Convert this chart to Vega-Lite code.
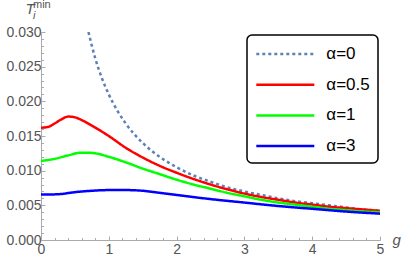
{
 "$schema": "https://vega.github.io/schema/vega-lite/v6.json",
 "width": 339, "height": 208,
 "autosize": {"type": "none"},
 "padding": {"left": 41, "top": 32, "right": 22, "bottom": 23},
 "title": {"text": "\u00a0min", "subtitle": "i", "anchor": "start", "frame": "group", "dx": -8, "offset": -20, "font": "Liberation Sans", "fontSize": 11, "fontWeight": "normal", "color": "#555", "subtitleFont": "Liberation Sans", "subtitleFontSize": 11, "subtitleFontStyle": "italic", "subtitleColor": "#555", "subtitlePadding": 0},
 "data": {"values": [
  {"g":0.70,"T":0.0300,"a":"α=0"},{"g":0.80,"T":0.0262,"a":"α=0"},{"g":0.90,"T":0.0233,"a":"α=0"},{"g":1.00,"T":0.0210,"a":"α=0"},{"g":1.25,"T":0.0168,"a":"α=0"},{"g":1.50,"T":0.0140,"a":"α=0"},{"g":1.75,"T":0.0120,"a":"α=0"},{"g":2.00,"T":0.0105,"a":"α=0"},{"g":2.25,"T":0.0093,"a":"α=0"},{"g":2.50,"T":0.0084,"a":"α=0"},{"g":2.75,"T":0.0076,"a":"α=0"},{"g":3.00,"T":0.0070,"a":"α=0"},{"g":3.25,"T":0.0065,"a":"α=0"},{"g":3.50,"T":0.0060,"a":"α=0"},{"g":3.75,"T":0.0056,"a":"α=0"},{"g":4.00,"T":0.0053,"a":"α=0"},{"g":4.25,"T":0.0050,"a":"α=0"},{"g":4.50,"T":0.0047,"a":"α=0"},{"g":4.75,"T":0.0044,"a":"α=0"},{"g":5.00,"T":0.0042,"a":"α=0"},
  {"g":0.00,"T":0.0162,"a":"α=0.5"},{"g":0.10,"T":0.0163,"a":"α=0.5"},{"g":0.20,"T":0.0168,"a":"α=0.5"},{"g":0.30,"T":0.0174,"a":"α=0.5"},{"g":0.40,"T":0.0178,"a":"α=0.5"},{"g":0.50,"T":0.0177,"a":"α=0.5"},{"g":0.60,"T":0.0173,"a":"α=0.5"},{"g":0.75,"T":0.0165,"a":"α=0.5"},{"g":1.00,"T":0.0150,"a":"α=0.5"},{"g":1.25,"T":0.0133,"a":"α=0.5"},{"g":1.50,"T":0.0119,"a":"α=0.5"},{"g":1.75,"T":0.0107,"a":"α=0.5"},{"g":2.00,"T":0.0097,"a":"α=0.5"},{"g":2.25,"T":0.0088,"a":"α=0.5"},{"g":2.50,"T":0.0080,"a":"α=0.5"},{"g":2.75,"T":0.0073,"a":"α=0.5"},{"g":3.00,"T":0.0067,"a":"α=0.5"},{"g":3.25,"T":0.0062,"a":"α=0.5"},{"g":3.50,"T":0.0058,"a":"α=0.5"},{"g":3.75,"T":0.0054,"a":"α=0.5"},{"g":4.00,"T":0.0051,"a":"α=0.5"},{"g":4.25,"T":0.0048,"a":"α=0.5"},{"g":4.50,"T":0.0046,"a":"α=0.5"},{"g":4.75,"T":0.0044,"a":"α=0.5"},{"g":5.00,"T":0.0042,"a":"α=0.5"},
  {"g":0.00,"T":0.0114,"a":"α=1"},{"g":0.20,"T":0.0117,"a":"α=1"},{"g":0.40,"T":0.0122,"a":"α=1"},{"g":0.60,"T":0.0126,"a":"α=1"},{"g":0.70,"T":0.0126,"a":"α=1"},{"g":0.80,"T":0.0125,"a":"α=1"},{"g":1.00,"T":0.0120,"a":"α=1"},{"g":1.25,"T":0.0112,"a":"α=1"},{"g":1.50,"T":0.0103,"a":"α=1"},{"g":1.75,"T":0.0095,"a":"α=1"},{"g":2.00,"T":0.0087,"a":"α=1"},{"g":2.25,"T":0.0080,"a":"α=1"},{"g":2.50,"T":0.0074,"a":"α=1"},{"g":2.75,"T":0.0068,"a":"α=1"},{"g":3.00,"T":0.0063,"a":"α=1"},{"g":3.25,"T":0.0058,"a":"α=1"},{"g":3.50,"T":0.0054,"a":"α=1"},{"g":3.75,"T":0.0051,"a":"α=1"},{"g":4.00,"T":0.0048,"a":"α=1"},{"g":4.25,"T":0.0045,"a":"α=1"},{"g":4.50,"T":0.0043,"a":"α=1"},{"g":4.75,"T":0.0041,"a":"α=1"},{"g":5.00,"T":0.0040,"a":"α=1"},
  {"g":0.00,"T":0.00655,"a":"α=3"},{"g":0.25,"T":0.0066,"a":"α=3"},{"g":0.50,"T":0.0069,"a":"α=3"},{"g":0.75,"T":0.0071,"a":"α=3"},{"g":1.00,"T":0.0072,"a":"α=3"},{"g":1.25,"T":0.0072,"a":"α=3"},{"g":1.50,"T":0.0071,"a":"α=3"},{"g":1.75,"T":0.0068,"a":"α=3"},{"g":2.00,"T":0.0065,"a":"α=3"},{"g":2.50,"T":0.0059,"a":"α=3"},{"g":3.00,"T":0.0054,"a":"α=3"},{"g":3.50,"T":0.0049,"a":"α=3"},{"g":4.00,"T":0.0045,"a":"α=3"},{"g":4.50,"T":0.0041,"a":"α=3"},{"g":5.00,"T":0.0038,"a":"α=3"}
 ]},
 "mark": {"type": "line", "strokeWidth": 2.5, "interpolate": "monotone", "clip": true},
 "encoding": {
  "x": {"field": "g", "type": "quantitative", "scale": {"domain": [0, 5], "nice": false, "zero": false},
   "axis": {"values": [0,0.2,0.4,0.6,0.8,1,1.2,1.4,1.6,1.8,2,2.2,2.4,2.6,2.8,3,3.2,3.4,3.6,3.8,4,4.2,4.4,4.6,4.8,5],
    "labelExpr": "abs(datum.value - round(datum.value)) < 1e-6 ? format(datum.value, 'd') : ''",
    "tickSize": {"condition": {"test": "abs(datum.value - round(datum.value)) < 1e-6", "value": -4}, "value": -2.5},
    "grid": false, "domainColor": "#aaa", "tickColor": "#aaa", "labelColor": "#555", "labelFont": "Liberation Sans", "labelFontSize": 14, "labelPadding": 6, "labelOverlap": false, "labelFlush": false,
    "title": "g", "titleX": 351, "titleY": 4, "titleAlign": "left", "titleBaseline": "alphabetic", "titleAngle": 0, "titleFont": "Liberation Sans", "titleFontStyle": "italic", "titleFontWeight": "normal", "titleFontSize": 15, "titleColor": "#555"}},
  "y": {"field": "T", "type": "quantitative", "scale": {"domain": [0, 0.03], "nice": false},
   "axis": {"values": [0,0.001,0.002,0.003,0.004,0.005,0.006,0.007,0.008,0.009,0.01,0.011,0.012,0.013,0.014,0.015,0.016,0.017,0.018,0.019,0.02,0.021,0.022,0.023,0.024,0.025,0.026,0.027,0.028,0.029,0.03],
    "labelExpr": "abs(datum.value*200 - round(datum.value*200)) < 1e-6 ? format(datum.value, '.3f') : ''",
    "tickSize": {"condition": {"test": "abs(datum.value*200 - round(datum.value*200)) < 1e-6", "value": -4}, "value": -2.5},
    "grid": false, "domainColor": "#aaa", "tickColor": "#aaa", "labelColor": "#555", "labelFont": "Liberation Sans", "labelFontSize": 14, "labelPadding": 4, "labelOverlap": false, "labelFlush": false,
    "title": "T", "titleX": -16, "titleY": -19, "titleAlign": "left", "titleBaseline": "alphabetic", "titleAngle": 0, "titleFont": "Liberation Sans", "titleFontStyle": "italic", "titleFontWeight": "normal", "titleFontSize": 15, "titleColor": "#555"}},
  "color": {"field": "a", "type": "nominal", "title": null, "scale": {"domain": ["α=0","α=0.5","α=1","α=3"], "range": ["#5e81b5","#ff0000","#00ff00","#0000ff"]}},
  "strokeDash": {"field": "a", "type": "nominal", "title": null, "scale": {"domain": ["α=0","α=0.5","α=1","α=3"], "range": [[3,3],[1,0],[1,0],[1,0]]}}
 },
 "config": {
  "view": {"stroke": null},
  "legend": {"orient": "none", "legendX": 206, "legendY": 3, "direction": "vertical", "strokeColor": "#000", "strokeWidth": 1.5, "cornerRadius": 5, "fillColor": "white", "padding": 8, "symbolType": "M-3,0H3", "symbolSize": 374, "symbolOffset": 19.3, "rowPadding": 11.7, "symbolStrokeWidth": 2.5, "labelFont": "Liberation Sans", "labelFontSize": 17, "labelColor": "#000", "labelOffset": 30}
 }
}
